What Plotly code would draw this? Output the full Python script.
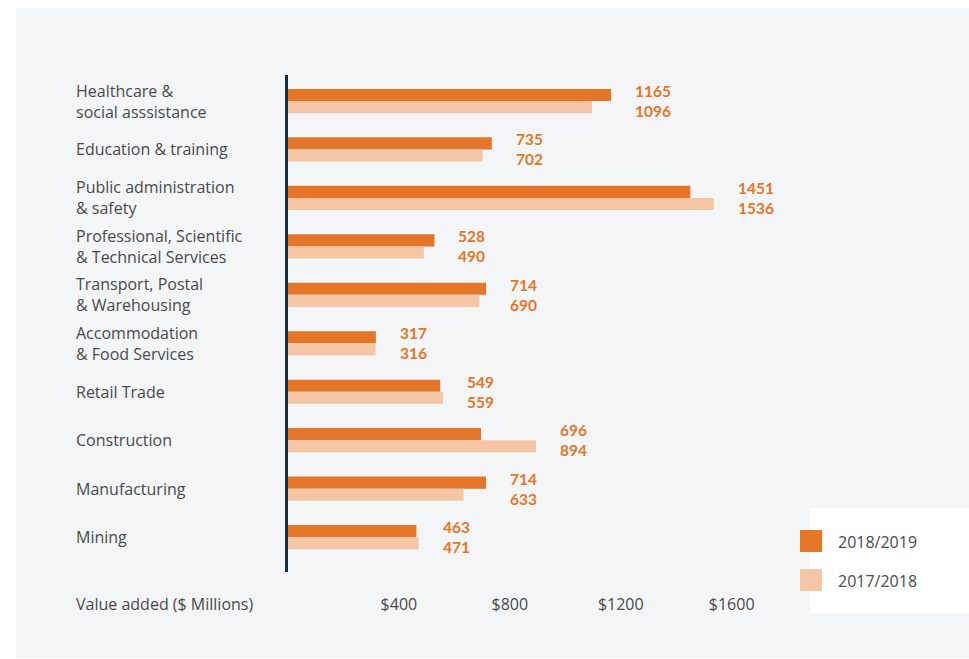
import plotly.graph_objects as go

# Industry labels (top to bottom) and value added, $ millions
industries = [
    "Healthcare &<br>social asssistance",
    "Education & training",
    "Public administration<br>& safety",
    "Professional, Scientific<br>& Technical Services",
    "Transport, Postal<br>& Warehousing",
    "Accommodation<br>& Food Services",
    "Retail Trade",
    "Construction",
    "Manufacturing",
    "Mining",
]
fy_2018_19 = [1165, 735, 1451, 528, 714, 317, 549, 696, 714, 463]
fy_2017_18 = [1096, 702, 1536, 490, 690, 316, 559, 894, 633, 471]
series_names = ["2018/2019", "2017/2018"]
tick_values = [400, 800, 1200, 1600]
tick_labels = ["$400", "$800", "$1200", "$1600"]
axis_title = "Value added ($ Millions)"

ORANGE = "#e67627"
PEACH = "#f4c6a6"
TEXT = "#4a4a4a"
BG = "#f4f5f7"
FONT = "Open Sans"
NUM_FONT = "Lato"

W, H = 969, 659
L, R, T, B = 288, 0, 75, 87
PW, PH = W - L - R, H - T - B


def px(x):
    return (x - L) / PW


def py(y):
    return (H - B - y) / PH


fig = go.Figure()
fig.add_trace(go.Bar(y=industries, x=fy_2018_19, orientation="h", name=series_names[0],
                     marker=dict(color=ORANGE, line=dict(width=0))))
fig.add_trace(go.Bar(y=industries, x=fy_2017_18, orientation="h", name=series_names[1],
                     marker=dict(color=PEACH, line=dict(width=0))))

annotations = []
# Category labels, left aligned
for name in industries:
    annotations.append(dict(x=px(74), xref="paper", y=name, yref="y", text=name,
                            xanchor="left", yanchor="middle", align="left", showarrow=False,
                            font=dict(family=FONT, size=16, color=TEXT)))
# Paired value labels beside each group
for name, a, b in zip(industries, fy_2018_19, fy_2017_18):
    annotations.append(dict(x=max(a, b), xref="x", y=name, yref="y", xshift=22,
                            text=f"{a}<br>{b}", xanchor="left", yanchor="middle", align="left",
                            showarrow=False,
                            font=dict(family=NUM_FONT, size=15.5, color=ORANGE, weight="bold")))
# Axis caption
annotations.append(dict(x=px(74), xref="paper", y=py(604), yref="paper", text=axis_title,
                        xanchor="left", yanchor="middle", showarrow=False,
                        font=dict(family=FONT, size=16, color=TEXT)))
# Legend entries
for i, nm in enumerate(series_names):
    annotations.append(dict(x=px(836), xref="paper", y=py(542 + 39 * i), yref="paper", text=nm,
                            xanchor="left", yanchor="middle", showarrow=False,
                            font=dict(family=FONT, size=16, color=TEXT)))

shapes = [
    dict(type="rect", xref="paper", yref="paper", x0=px(16), x1=px(969), y0=py(658), y1=py(8),
         fillcolor=BG, line=dict(width=0), layer="below"),
    dict(type="rect", xref="paper", yref="paper", x0=px(810), x1=px(969), y0=py(613), y1=py(508),
         fillcolor="white", line=dict(width=0), layer="below"),
]
for i, col in enumerate([ORANGE, PEACH]):
    shapes.append(dict(type="rect", xref="paper", yref="paper", x0=px(800), x1=px(822),
                       y0=py(552 + 39 * i), y1=py(530 + 39 * i), fillcolor=col,
                       line=dict(width=0), layer="above"))

fig.update_layout(
    width=W, height=H,
    margin=dict(l=L, r=R, t=T, b=B, pad=0),
    paper_bgcolor="white",
    plot_bgcolor="rgba(0,0,0,0)",
    barmode="group",
    bargap=0.5,
    bargroupgap=0,
    showlegend=False,
    annotations=annotations,
    shapes=shapes,
    xaxis=dict(range=[0, PW / 0.2773], tickvals=tick_values, ticktext=tick_labels,
               showgrid=False, zeroline=False, showline=False, ticks="",
               ticklabelstandoff=21,
               tickfont=dict(family=FONT, size=16, color=TEXT)),
    yaxis=dict(range=[9.72, -0.537], showticklabels=False, showgrid=False, zeroline=False,
               showline=True, linecolor="#0f2d44", linewidth=3, ticks=""),
)

fig.write_html("out.html")
